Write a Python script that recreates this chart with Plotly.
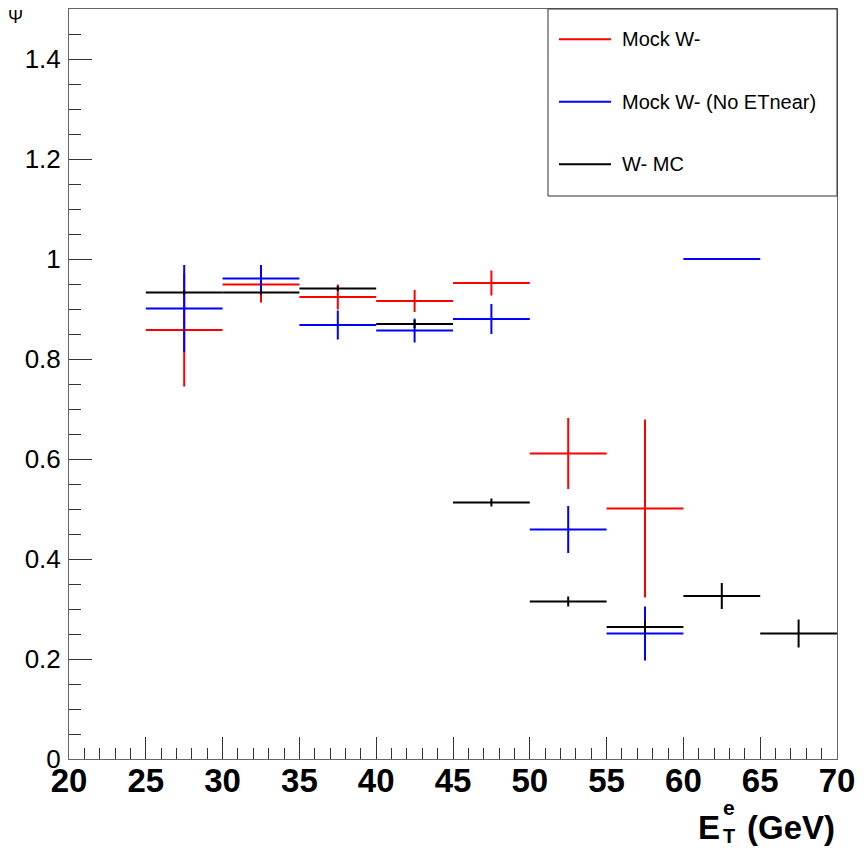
import plotly.graph_objects as go

# ---------------- data ----------------
bin_centers = [27.5, 32.5, 37.5, 42.5, 47.5, 52.5, 57.5, 62.5, 67.5]
bin_halfwidth = [2.5] * 9

mock_vals = [0.858, 0.949, 0.924, 0.916, 0.952, 0.611, 0.501]
mock_errs = [0.113, 0.036, 0.025, 0.022, 0.025, 0.071, 0.178]

noet_vals = [0.901, 0.961, 0.868, 0.857, 0.880, 0.459, 0.251, 1.000]
noet_errs = [0.087, 0.027, 0.029, 0.024, 0.030, 0.047, 0.054, 0.0]

mc_vals = [0.933, 0.933, 0.941, 0.870, 0.513, 0.315, 0.264, 0.326, 0.251]
mc_errs = [0.004, 0.004, 0.005, 0.008, 0.008, 0.010, 0.013, 0.026, 0.028]

series_names = ["Mock W-", "Mock W- (No ETnear)", "W- MC"]
series_colors = ["#ff0000", "#0000ff", "#000000"]
series_vals = [mock_vals, noet_vals, mc_vals]
series_errs = [mock_errs, noet_errs, mc_errs]

x_range = [20, 70]
y_range = [0, 1.5]

# ---------------- layout geometry (pixels) ----------------
W, H = 866, 850
L, R, T, B = 69, 29, 9, 91
PW, PH = W - L - R, H - T - B

def px(xp):
    return (xp - L) / PW

def py(yp):
    return (H - B - yp) / PH

FONT = "Liberation Sans, Arial, Helvetica, sans-serif"

fig = go.Figure()
for name, col, vals, errs in zip(series_names, series_colors, series_vals, series_errs):
    n = len(vals)
    fig.add_trace(go.Scatter(
        x=bin_centers[:n], y=vals, name=name, mode="markers",
        marker=dict(size=0.001, color=col),
        error_x=dict(type="data", array=bin_halfwidth[:n], color=col, thickness=2, width=0),
        error_y=dict(type="data", array=errs, color=col, thickness=2, width=0),
        showlegend=False, hoverinfo="x+y",
    ))

axis_common = dict(
    showline=True, linecolor="#666666", linewidth=1, mirror=True,
    ticks="inside", tickcolor="#333333", tickwidth=1,
    showgrid=False, zeroline=False,
)
fig.update_xaxes(
    range=x_range, dtick=5, tick0=20, ticklen=22,
    minor=dict(dtick=1, ticks="inside", ticklen=11, tickcolor="#333333", showgrid=False),
    tickfont=dict(family=FONT, size=33, color="black", weight="bold"),
    ticklabelstandoff=-8,
    **axis_common,
)
fig.update_yaxes(
    range=y_range, dtick=0.2, tick0=0, ticklen=23,
    minor=dict(dtick=0.05, ticks="inside", ticklen=12, tickcolor="#333333", showgrid=False),
    tickfont=dict(family=FONT, size=26, color="black"),
    ticklabelstandoff=2,
    **axis_common,
)

shapes = []
annotations = []
# legend box
shapes.append(dict(type="rect", xref="paper", yref="paper",
                   x0=px(548), x1=px(837), y0=py(196), y1=py(9),
                   line=dict(color="#333333", width=1), fillcolor="white", layer="above"))
row_y = [39.3, 101.7, 164.3]
for name, col, ry in zip(series_names, series_colors, row_y):
    shapes.append(dict(type="line", xref="paper", yref="paper",
                       x0=px(559), x1=px(611), y0=py(ry), y1=py(ry),
                       line=dict(color=col, width=2), layer="above"))
    annotations.append(dict(xref="paper", yref="paper", x=px(620), y=py(ry),
                            text=name, showarrow=False, xanchor="left", yanchor="middle",
                            font=dict(family=FONT, size=20, color="black")))

# y-axis title (top-left symbol)
annotations.append(dict(xref="paper", yref="paper", x=px(15), y=py(17), text="Ψ",
                        showarrow=False, xanchor="center", yanchor="middle",
                        font=dict(family=FONT, size=18, color="black")))
# x-axis title: E_T^e (GeV)
annotations.append(dict(xref="paper", yref="paper", x=px(722), y=py(827), text="<b>E</b>",
                        showarrow=False, xanchor="right", yanchor="middle",
                        font=dict(family=FONT, size=33, color="black")))
annotations.append(dict(xref="paper", yref="paper", x=px(721), y=py(807), text="<b>e</b>",
                        showarrow=False, xanchor="left", yanchor="middle",
                        font=dict(family=FONT, size=21, color="black")))
annotations.append(dict(xref="paper", yref="paper", x=px(721), y=py(836), text="<b>T</b>",
                        showarrow=False, xanchor="left", yanchor="middle",
                        font=dict(family=FONT, size=20, color="black")))
annotations.append(dict(xref="paper", yref="paper", x=px(837), y=py(827), text="<b>(GeV)</b>",
                        showarrow=False, xanchor="right", yanchor="middle",
                        font=dict(family=FONT, size=33, color="black")))

fig.update_layout(
    width=W, height=H,
    margin=dict(l=L, r=R, t=T, b=B, pad=0),
    paper_bgcolor="white", plot_bgcolor="white",
    showlegend=False,
    shapes=shapes, annotations=annotations,
)

fig.write_html("out.html")
